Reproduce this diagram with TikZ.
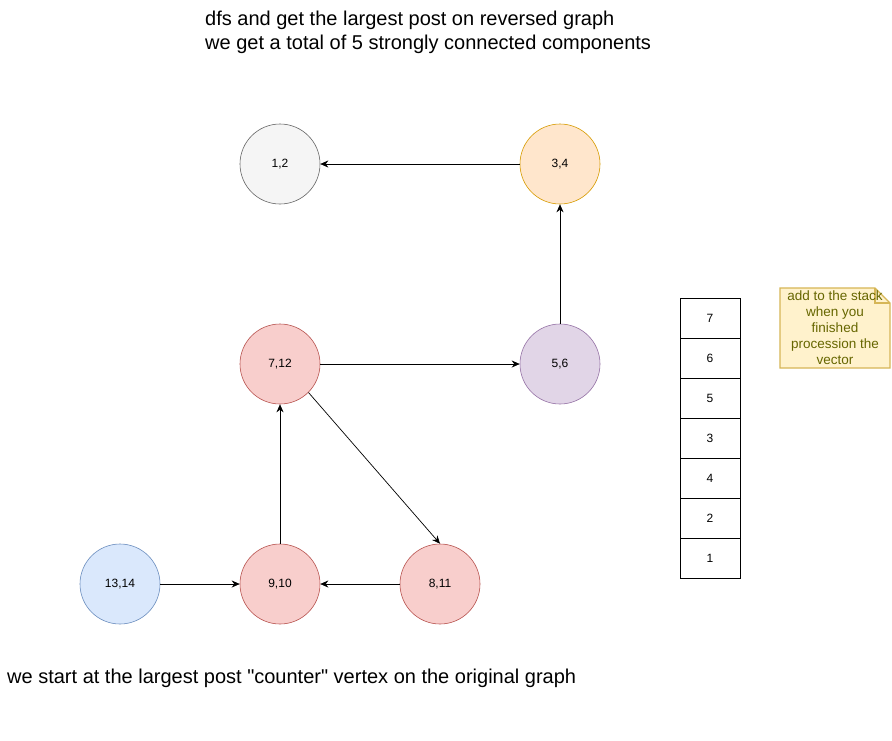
\documentclass[tikz,border=0pt]{standalone}
\usepackage{fontspec}
\setmainfont{Liberation Sans}[Ligatures=TeXOff]
\usetikzlibrary{arrows.meta}
\definecolor{grayF}{HTML}{F5F5F5}\definecolor{grayD}{HTML}{666666}
\definecolor{orgF}{HTML}{FFE6CC}\definecolor{orgD}{HTML}{D79B00}
\definecolor{redF}{HTML}{F8CECC}\definecolor{redD}{HTML}{B85450}
\definecolor{purF}{HTML}{E1D5E7}\definecolor{purD}{HTML}{9673A6}
\definecolor{bluF}{HTML}{DAE8FC}\definecolor{bluD}{HTML}{6C8EBF}
\definecolor{noteF}{HTML}{FFF2CC}\definecolor{noteD}{HTML}{D6B656}
\definecolor{noteT}{HTML}{666600}
\begin{document}
\begin{tikzpicture}[x=1pt,y=-1pt,
  vert/.style={circle,minimum size=80pt,inner sep=0pt,line width=0.6pt,font=\fontsize{12}{14}\selectfont},
  cell/.style={rectangle,draw=black,line width=0.6pt,minimum width=60pt,minimum height=40pt,inner sep=0pt,font=\fontsize{12}{14}\selectfont},
  conn/.style={-{Stealth[length=8pt,width=7pt]},line width=0.7pt},
  lbl/.style={anchor=west,inner sep=0pt,font=\fontsize{20}{24}\selectfont}]
\useasboundingbox (0,0) rectangle (892,740);
\fill[white] (0,0) rectangle (892,740);
\node[lbl] (t1) at (205,20) {dfs and get the largest post on reversed graph};
\node[lbl] (t2) at (205,44) {we get a total of 5 strongly connected components};
\node[lbl] (t3) at (7,678) {we start at the largest post "counter" vertex on the original graph};
\node[vert,fill=grayF,draw=grayD] (n12) at (280,164) {1,2};
\node[vert,fill=orgF,draw=orgD] (n34) at (560,164) {3,4};
\node[vert,fill=redF,draw=redD] (n712) at (280,364) {7,12};
\node[vert,fill=purF,draw=purD] (n56) at (560,364) {5,6};
\node[vert,fill=bluF,draw=bluD] (n1314) at (120,584) {13,14};
\node[vert,fill=redF,draw=redD] (n910) at (280,584) {9,10};
\node[vert,fill=redF,draw=redD] (n811) at (440,584) {8,11};
\draw[conn] (n34) -- (n12);
\draw[conn] (n56) -- (n34);
\draw[conn] (n712) -- (n56);
\draw[conn] (n712.-45) -- (n811.north);
\draw[conn] (n910) -- (n712);
\draw[conn] (n1314) -- (n910);
\draw[conn] (n811) -- (n910);
\node[cell] (s7) at (710,318) {7};
\node[cell] (s6) at (710,358) {6};
\node[cell] (s5) at (710,398) {5};
\node[cell] (s3) at (710,438) {3};
\node[cell] (s4) at (710,478) {4};
\node[cell] (s2) at (710,518) {2};
\node[cell] (s1) at (710,558) {1};
\filldraw[fill=noteF,draw=noteD,line width=1.2pt] (780,288) -- (875,288) -- (890,303) -- (890,368) -- (780,368) -- cycle;
\draw[draw=noteD,line width=1.2pt] (875,288) -- (875,303) -- (890,303);
\node[align=center,text=noteT,font=\fontsize{13.5}{16}\selectfont,inner sep=0pt] (note) at (835,328) {add to the stack\\when you\\finished\\procession the\\vector};
\end{tikzpicture}
\end{document}
